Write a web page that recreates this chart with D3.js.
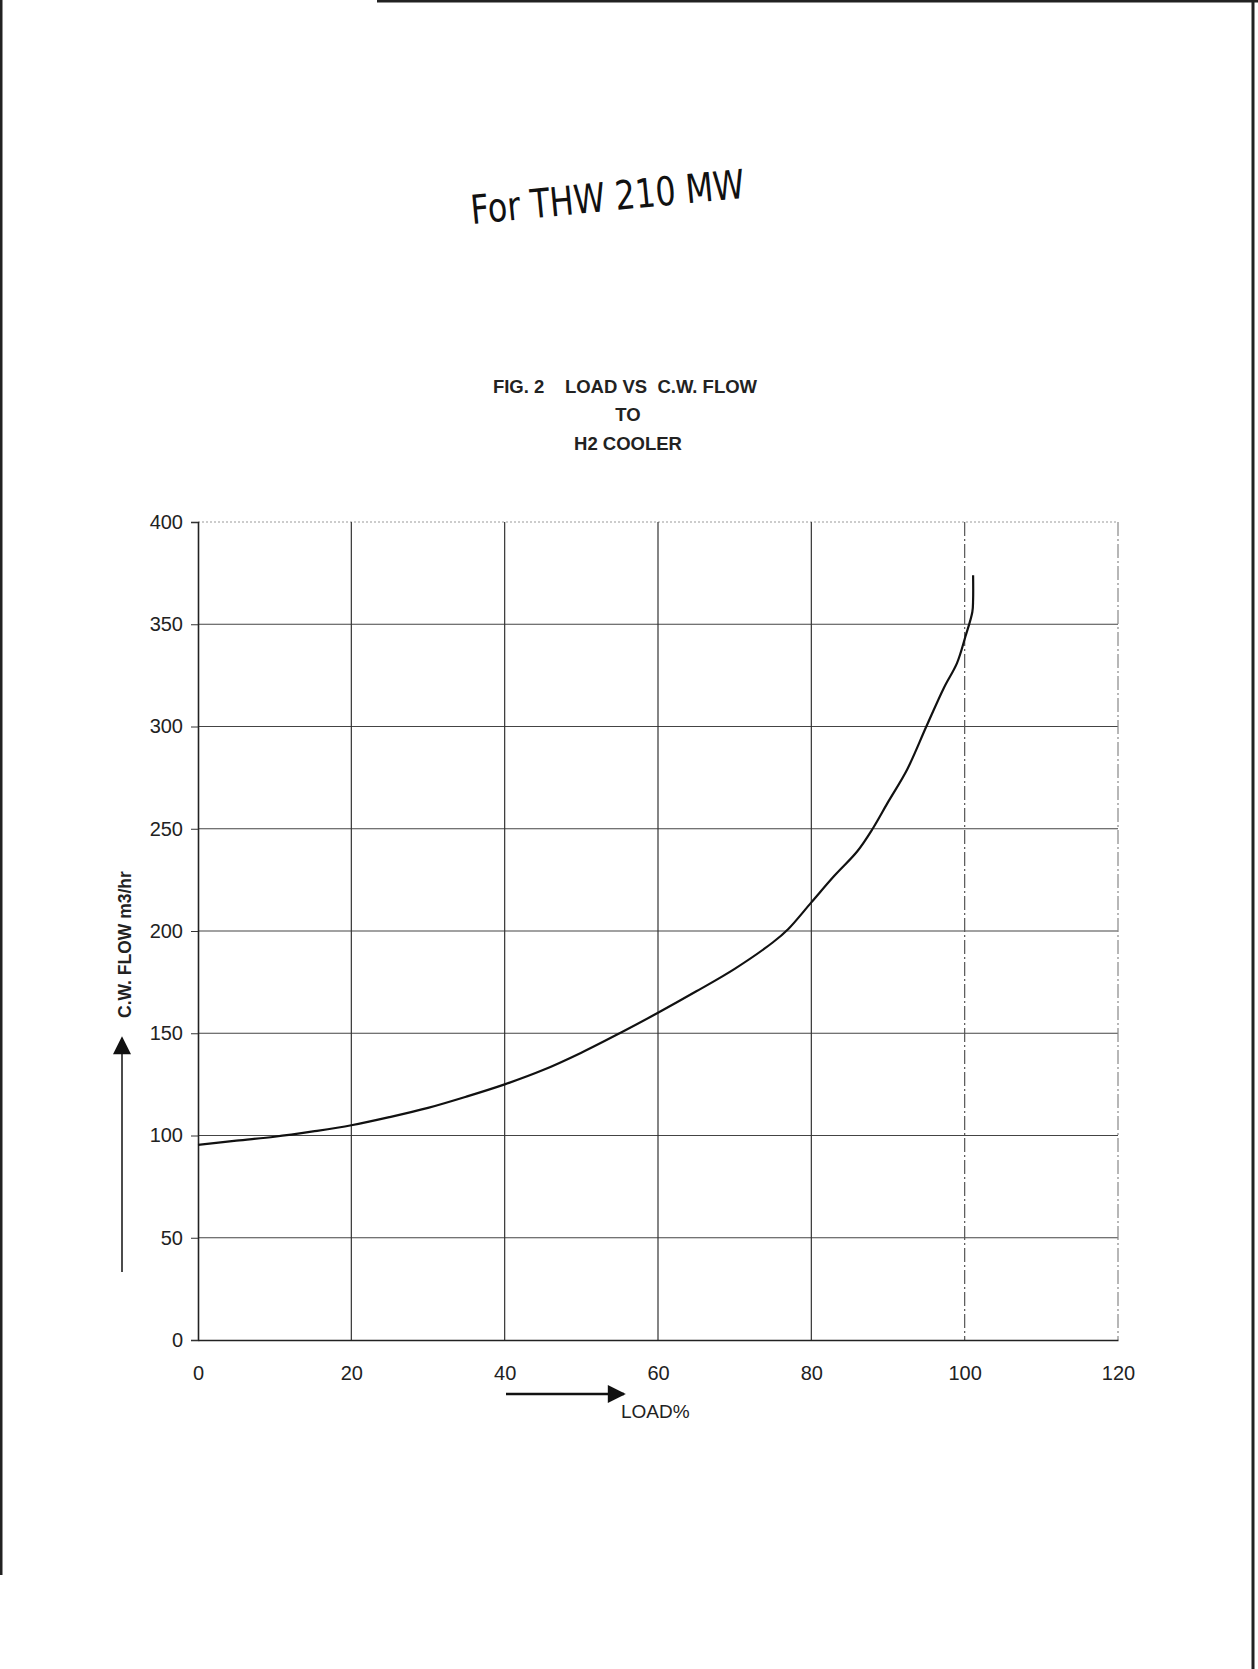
<!DOCTYPE html>
<html>
<head>
<meta charset="utf-8">
<script src="https://cdn.jsdelivr.net/npm/d3@7"></script>
<style>
  body { margin: 0; background: #fff; }
  svg { display: block; }
</style>
</head>
<body>
<svg id="chart"></svg>
<script>
const width = 1258;
const height = 1669;

// curve: load % vs C.W. flow m3/hr
const loadPct = [0, 5, 10, 15, 20, 25, 30, 35, 40, 45, 50, 55, 60, 65, 70, 75, 77, 80, 83, 86, 88, 90, 92.5, 95, 97.3, 99, 100.1, 101, 101.1, 101.1];
const cwFlow = [95.4, 97.5, 99.4, 102, 105, 109, 113.5, 119, 125, 132, 140.5, 150, 160, 170.5, 181.5, 194.5, 201, 214, 227, 239, 250, 263, 279, 300, 319, 331, 344, 356, 362, 374];

const xTicks = [0, 20, 40, 60, 80, 100, 120];
const yTicks = [0, 50, 100, 150, 200, 250, 300, 350, 400];

const titleLines = ["FIG. 2\u00a0\u00a0\u00a0\u00a0LOAD VS\u00a0\u00a0C.W. FLOW", "TO", "H2 COOLER"];

const svg = d3.select("#chart")
    .attr("width", width)
    .attr("height", height);

// scanned page edges
svg.append("line").attr("x1", 1).attr("x2", 1).attr("y1", 0).attr("y2", 1575)
    .attr("stroke", "#222").attr("stroke-width", 3);
svg.append("line").attr("x1", 1253).attr("x2", 1253).attr("y1", 0).attr("y2", height)
    .attr("stroke", "#222").attr("stroke-width", 3);
svg.append("line").attr("x1", 377).attr("x2", width).attr("y1", 1).attr("y2", 1)
    .attr("stroke", "#222").attr("stroke-width", 3);

// handwritten note
svg.append("text")
    .attr("transform", "translate(472,224) rotate(-5.5)")
    .attr("textLength", 275)
    .attr("lengthAdjust", "spacingAndGlyphs")
    .style("font-family", "DejaVu Sans")
    .style("font-size", "40px")
    .style("fill", "#111")
    .text("For THW 210 MW");

// printed title
svg.append("text")
    .attr("text-anchor", "middle")
    .style("font-family", "Liberation Sans, Arial, sans-serif")
    .style("font-weight", "bold")
    .style("font-size", "18.5px")
    .attr("fill", "#222")
    .selectAll("tspan")
    .data(titleLines)
    .join("tspan")
    .attr("x", (d, i) => i === 0 ? 625 : 628)
    .attr("y", (d, i) => [393, 421, 450][i])
    .text(d => d);

const x = d3.scaleLinear().domain([0, 120]).range([198, 1118]);
const y = d3.scaleLinear().domain([0, 400]).range([1340, 522]);

// gridlines
svg.append("g")
    .selectAll("line")
    .data(yTicks.filter(d => d > 0))
    .join("line")
    .attr("x1", x(0)).attr("x2", x(120))
    .attr("y1", d => y(d)).attr("y2", d => y(d))
    .attr("stroke", d => d === 400 ? "#999" : "#444")
    .attr("stroke-width", d => d === 400 ? 1 : 1.2)
    .attr("stroke-dasharray", d => d === 400 ? "2,2" : null);

svg.append("g")
    .selectAll("line")
    .data(xTicks.filter(d => d > 0))
    .join("line")
    .attr("x1", d => x(d)).attr("x2", d => x(d))
    .attr("y1", y(400)).attr("y2", y(0))
    .attr("stroke", d => d === 120 ? "#888" : d === 100 ? "#555" : "#333")
    .attr("stroke-width", 1.2)
    .attr("stroke-dasharray", d => d >= 100 ? "14,3,2,3" : null);

// axes
const xAxis = svg.append("g")
    .attr("transform", `translate(0,${y(0)})`)
    .call(d3.axisBottom(x).tickValues(xTicks).tickSize(0).tickPadding(26));
const yAxis = svg.append("g")
    .attr("transform", `translate(${x(0)},0)`)
    .call(d3.axisLeft(y).tickValues(yTicks).tickSize(7).tickPadding(8));

[xAxis, yAxis].forEach(g => {
    g.select(".domain").attr("stroke", "#222").attr("stroke-width", 1.6);
    g.selectAll(".tick line").attr("stroke", "#333");
    g.selectAll("text")
        .style("font-family", "Liberation Sans, Arial, sans-serif")
        .style("font-size", "20px")
        .attr("fill", "#222");
});

// axis titles with arrows
svg.append("defs").append("marker")
    .attr("id", "arrow")
    .attr("viewBox", "0 0 10 10")
    .attr("refX", 9).attr("refY", 5)
    .attr("markerWidth", 20).attr("markerHeight", 18)
    .attr("markerUnits", "userSpaceOnUse")
    .attr("orient", "auto")
    .append("path")
    .attr("d", "M0,0 L10,5 L0,10 Z")
    .attr("fill", "#111");

svg.append("line")
    .attr("x1", 506).attr("x2", 624).attr("y1", 1394).attr("y2", 1394)
    .attr("stroke", "#111").attr("stroke-width", 2.5)
    .attr("marker-end", "url(#arrow)");
svg.append("text")
    .attr("x", 621).attr("y", 1418)
    .style("font-family", "Liberation Sans, Arial, sans-serif")
    .style("font-size", "19px")
    .attr("fill", "#222")
    .text("LOAD%");

svg.append("line")
    .attr("x1", 122).attr("x2", 122).attr("y1", 1272).attr("y2", 1038)
    .attr("stroke", "#111").attr("stroke-width", 1.5)
    .attr("marker-end", "url(#arrow)");
svg.append("text")
    .attr("transform", "translate(131,1018) rotate(-90)")
    .style("font-family", "Liberation Sans, Arial, sans-serif")
    .style("font-weight", "bold")
    .style("font-size", "17.5px")
    .attr("fill", "#222")
    .text("C.W. FLOW m3/hr");

// the curve
const pts = loadPct.map((d, i) => [d, cwFlow[i]]);
const line = d3.line()
    .x(d => x(d[0]))
    .y(d => y(d[1]))
    .curve(d3.curveCatmullRom.alpha(0.5));

svg.append("path")
    .datum(pts)
    .attr("d", line)
    .attr("fill", "none")
    .attr("stroke", "#111")
    .attr("stroke-width", 2.2);
</script>
</body>
</html>
